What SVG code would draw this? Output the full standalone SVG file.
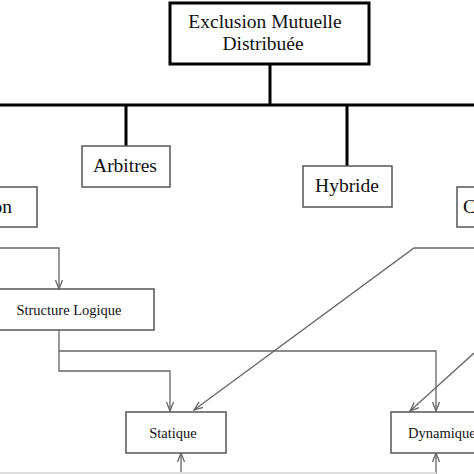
<svg xmlns="http://www.w3.org/2000/svg" width="474" height="474" viewBox="0 0 474 474">
<style>
.thick{stroke:#000;stroke-width:3;fill:none}
.box{fill:#fff;stroke:#555;stroke-width:1.5}
.topbox{fill:#fff;stroke:#000;stroke-width:3}
.conn{stroke:#666;stroke-width:1.3;fill:none}
.t{font-family:"Liberation Serif","Times New Roman",serif;fill:#111;text-anchor:middle}
.big{font-size:19.5px}
.small{font-size:14.5px}
</style>
<defs>
<marker id="arr" viewBox="0 0 10 10" refX="9" refY="5" markerWidth="10" markerHeight="10" markerUnits="userSpaceOnUse" orient="auto">
<path d="M0,1.5 L9,5 L0,8.5" fill="none" stroke="#666" stroke-width="1.3"/>
</marker>
</defs>
<rect width="474" height="474" fill="#fff"/>
<g id="connectors">
<path class="thick" d="M270,64 V105 M0,105 H474 M126,105 V146 M347,105 V166"/>
<path class="conn" d="M0,248 H59 V289" marker-end="url(#arr)"/>
<path class="conn" d="M474,248 H414 L194,410" marker-end="url(#arr)"/>
<path class="conn" d="M59,330 V371 H170 V411" marker-end="url(#arr)"/>
<path class="conn" d="M59,351 H436 V411" marker-end="url(#arr)"/>
<path class="conn" d="M474,353 L410,411" marker-end="url(#arr)"/>
<path class="conn" d="M181,474 V453" marker-end="url(#arr)"/>
<path class="conn" d="M436,474 V453" marker-end="url(#arr)"/>
<path d="M0,473 H436" stroke="#ddd" stroke-width="2" fill="none"/>
</g>
<g id="root">
<rect class="topbox" x="170" y="3" width="199" height="61"/>
<text class="t big" x="265" y="28">Exclusion Mutuelle</text>
<text class="t big" x="263" y="50">Distribuée</text>
</g>
<g id="arbitres">
<rect class="box" x="82" y="146" width="88" height="41"/>
<text class="t big" x="125" y="172">Arbitres</text>
</g>
<g id="hybride">
<rect class="box" x="303" y="166" width="89" height="41"/>
<text class="t big" x="347" y="192">Hybride</text>
</g>
<g id="left-node">
<rect class="box" x="-20" y="187" width="57" height="40"/>
<text class="t big" x="12" y="213" style="text-anchor:end">on</text>
</g>
<g id="right-node">
<rect class="box" x="457" y="187" width="40" height="40"/>
<text class="t big" x="463" y="213" style="text-anchor:start">C</text>
</g>
<g id="structure-logique">
<rect class="box" x="-20" y="289" width="174" height="41"/>
<text class="t small" x="69" y="315">Structure Logique</text>
</g>
<g id="statique">
<rect class="box" x="126" y="412" width="100" height="41"/>
<text class="t small" x="173" y="438">Statique</text>
</g>
<g id="dynamique">
<rect class="box" x="391" y="412" width="100" height="41"/>
<text class="t small" x="408" y="438" style="text-anchor:start">Dynamique</text>
</g>
</svg>
